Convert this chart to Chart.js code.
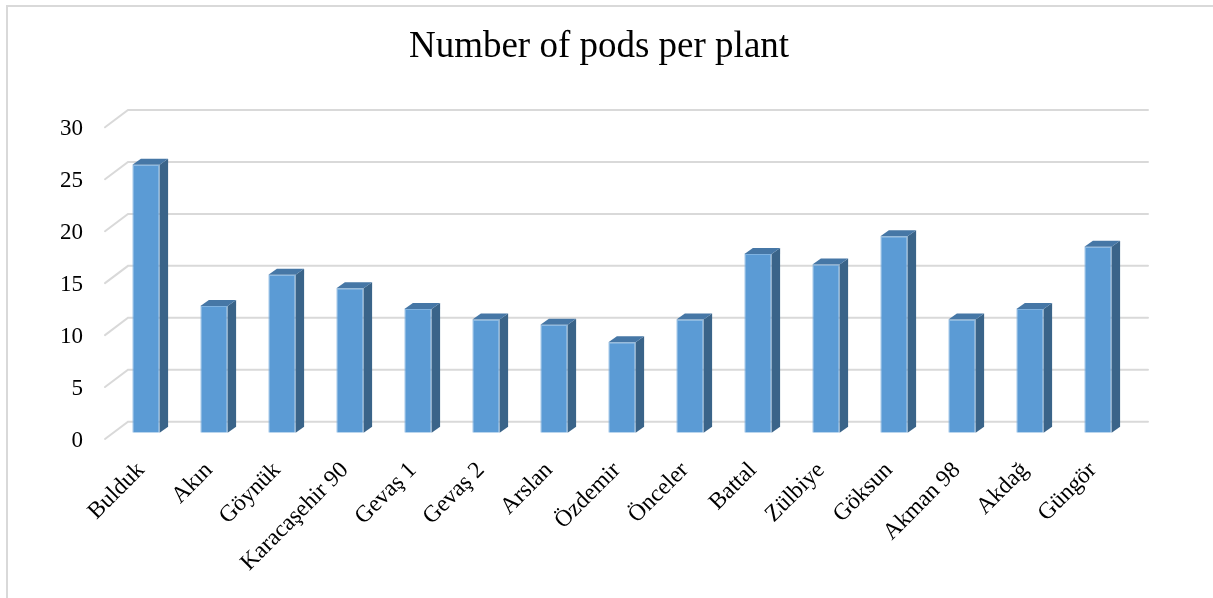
<!DOCTYPE html>
<html>
<head>
<meta charset="utf-8">
<script src="https://cdn.jsdelivr.net/npm/chart.js@4.4.1/dist/chart.umd.min.js"></script>
<style>
  html, body { margin: 0; padding: 0; background: #ffffff; }
  #wrap { width: 1213px; height: 598px; }
</style>
</head>
<body>
<div id="wrap"><canvas id="chart" width="1213" height="598"></canvas></div>
<script>
// Pod counts per plant for each cultivar
const cultivars = ['Bulduk', 'Akın', 'Göynük', 'Karacaşehir 90', 'Gevaş 1', 'Gevaş 2', 'Arslan',
  'Özdemir', 'Önceler', 'Battal', 'Zülbiye', 'Göksun', 'Akman 98', 'Akdağ', 'Güngör'];
const podsPerPlant = [25.8, 12.2, 15.2, 13.9, 11.9, 10.9, 10.4, 8.7, 10.9, 17.2, 16.2, 18.9, 10.9, 11.9, 17.9];
const yTicks = [0, 5, 10, 15, 20, 25, 30];

const serif = "'Liberation Serif', 'Times New Roman', serif";

// Depth offsets for the pseudo-3D look
const WALL_BACK_DX = 16, WALL_BACK_DY = -11;   // back wall relative to bar front plane
const WALL_FRONT_DX = -7, WALL_FRONT_DY = 6.3;  // front edge relative to bar front plane
const BAR_DX = 8.5, BAR_DY = -6;               // bar side/top depth

// Frame around the chart
const framePlugin = {
  id: 'frame',
  beforeDraw(chart) {
    const ctx = chart.ctx;
    ctx.save();
    ctx.fillStyle = '#ffffff';
    ctx.fillRect(0, 0, chart.width, chart.height);
    ctx.strokeStyle = '#d9d9d9';
    ctx.lineWidth = 2;
    ctx.beginPath();
    ctx.moveTo(7, chart.height);
    ctx.lineTo(7, 6);
    ctx.lineTo(chart.width, 6);
    ctx.stroke();
    ctx.restore();
  }
};

// Back-wall gridlines with the slanted side-wall segments
const wallGridPlugin = {
  id: 'wallGrid',
  beforeDatasetsDraw(chart) {
    const { ctx, chartArea, scales } = chart;
    const y = scales.y;
    ctx.save();
    ctx.strokeStyle = '#d9d9d9';
    ctx.lineWidth = 2;
    ctx.lineCap = 'round';
    yTicks.forEach(v => {
      const py = y.getPixelForValue(v);
      const bx = chartArea.left + WALL_BACK_DX, by = py + WALL_BACK_DY;
      ctx.beginPath();
      ctx.moveTo(chartArea.left + WALL_FRONT_DX, py + WALL_FRONT_DY);
      ctx.lineTo(bx, by);
      ctx.lineTo(chartArea.right + WALL_BACK_DX, by);
      ctx.stroke();
    });
    ctx.restore();
  }
};

// Side and top faces of each bar
const barDepthPlugin = {
  id: 'barDepth',
  afterDatasetsDraw(chart) {
    const ctx = chart.ctx;
    const meta = chart.getDatasetMeta(0);
    ctx.save();
    meta.data.forEach(bar => {
      const { x, y, base, width } = bar.getProps(['x', 'y', 'base', 'width'], true);
      const l = x - width / 2, r = x + width / 2;
      // side face
      ctx.fillStyle = '#3a6489';
      ctx.beginPath();
      ctx.moveTo(r, y);
      ctx.lineTo(r + BAR_DX, y + BAR_DY);
      ctx.lineTo(r + BAR_DX, base + BAR_DY);
      ctx.lineTo(r, base);
      ctx.closePath();
      ctx.fill();
      // top face
      ctx.fillStyle = '#4677a6';
      ctx.beginPath();
      ctx.moveTo(l, y);
      ctx.lineTo(l + BAR_DX, y + BAR_DY);
      ctx.lineTo(r + BAR_DX, y + BAR_DY);
      ctx.lineTo(r, y);
      ctx.closePath();
      ctx.fill();
    });
    ctx.restore();
  }
};

new Chart(document.getElementById('chart'), {
  type: 'bar',
  data: {
    labels: cultivars,
    datasets: [{
      label: 'Number of pods per plant',
      data: podsPerPlant,
      backgroundColor: '#5b9bd5',
      borderColor: '#7fb2e0',
      borderWidth: 1,
      categoryPercentage: 1,
      barPercentage: 0.4
    }]
  },
  options: {
    responsive: false,
    devicePixelRatio: 1,
    animation: false,
    layout: { padding: { top: 0, left: 66, right: 81, bottom: 0 } },
    plugins: {
      legend: { display: false },
      tooltip: { enabled: false },
      title: {
        display: true,
        text: 'Number of pods per plant',
        color: '#000000',
        font: { family: serif, size: 37, weight: 'normal', lineHeight: 1.2 },
        padding: { top: 25, bottom: 51.6 }
      }
    },
    scales: {
      x: {
        grid: { display: false, drawTicks: false },
        border: { display: false },
        ticks: {
          autoSkip: false,
          minRotation: 45,
          maxRotation: 45,
          labelOffset: -5,
          padding: 24,
          color: '#000000',
          font: { family: serif, size: 23.5 }
        },
        afterFit(scale) { scale.height = 165.3; }
      },
      y: {
        min: 0,
        max: 30,
        grid: { display: false, drawTicks: false },
        border: { display: false },
        ticks: {
          stepSize: 5,
          padding: 29,
          labelOffset: 8,
          color: '#000000',
          font: { family: serif, size: 23 }
        },
        afterFit(scale) { scale.width = 46; },
        // let the tick labels run past the narrow axis box instead of being clipped
        afterUpdate(scale) { scale._computeLabelArea = () => undefined; }
      }
    }
  },
  plugins: [framePlugin, wallGridPlugin, barDepthPlugin]
});
</script>
</body>
</html>
